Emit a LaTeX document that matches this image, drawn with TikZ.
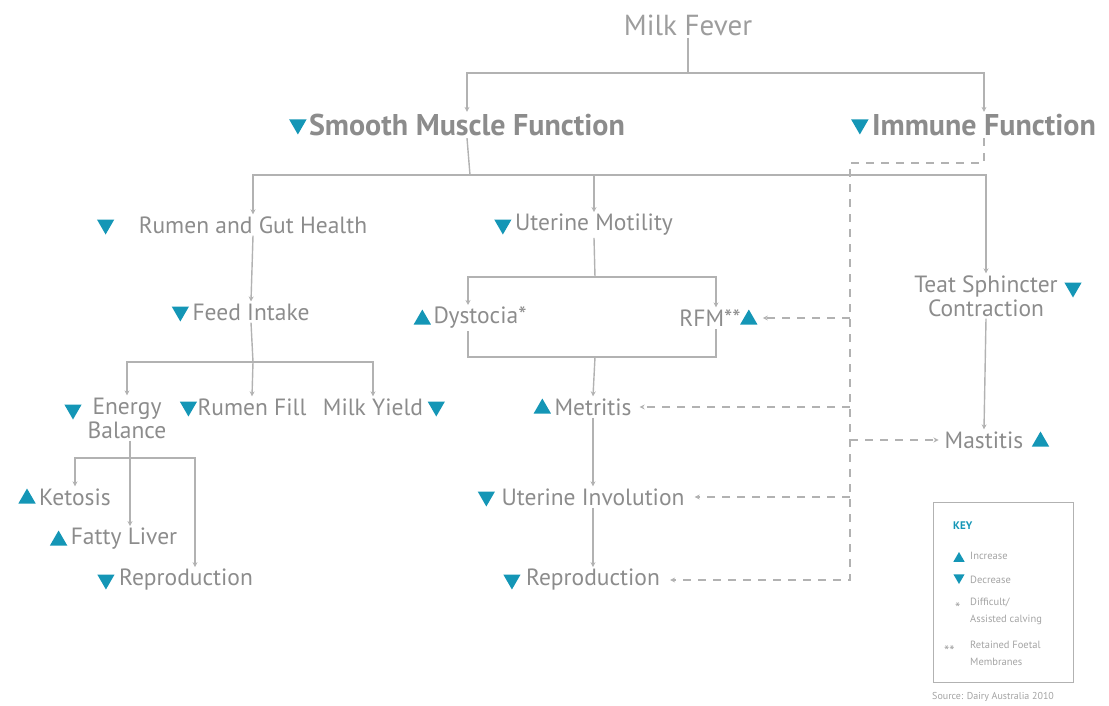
\documentclass[tikz,border=0pt]{standalone}
\usepackage{fontspec}
\setmainfont{PT Sans}
\usetikzlibrary{arrows.meta,positioning,calc,shapes.geometric}
\definecolor{txtcol}{RGB}{140,140,140}
\definecolor{lncol}{RGB}{178,178,178}
\definecolor{tcol}{RGB}{20,150,182}

\begin{document}
\begin{tikzpicture}[x=1pt, y=-1pt, >={Stealth[length=5pt,width=5pt]},
  lbl/.style={text=txtcol, font=\fontsize{23.5}{24}\selectfont, align=center, inner sep=2pt},
  head/.style={text=txtcol, font=\fontsize{30}{32}\selectfont\bfseries, inner sep=2pt},
  incr/.style={regular polygon, regular polygon sides=3, fill=tcol, inner sep=0pt, minimum size=20pt, yshift=-1.5pt},
  decr/.style={incr, shape border rotate=180, yshift=2pt},
  conn/.style={draw=lncol, line width=1.4pt},
  dashln/.style={conn, dash pattern=on 8pt off 7pt},
  keytxt/.style={text=txtcol!80, font=\fontsize{10.5}{17}\selectfont, align=left, inner sep=0pt}]
\useasboundingbox (0,0) rectangle (1109,706);

% top levels
\node[lbl, font=\fontsize{29}{31}\selectfont, text=txtcol!85] (milk) at (688,25) {Milk Fever};
\node[head] (smf) at (467,125) {Smooth Muscle Function};
\node[decr, left=3pt of smf] (smft) {};
\node[head] (imm) at (984,125) {Immune Function};
\node[decr, left=4pt of imm] (immt) {};

% rumen branch
\node[lbl] (rumen) at (253,225) {Rumen and Gut Health};
\node[decr, left=25pt of rumen] (rument) {};
\node[lbl] (feed) at (251,312) {Feed Intake};
\node[decr, left=4pt of feed] (feedt) {};
\node[lbl] (energy) at (127,418) {Energy\\Balance};
\node[decr] (energyt) at (73,410) {};
\node[lbl] (fill) at (252,407) {Rumen Fill};
\node[decr, left=1pt of fill] (fillt) {};
\node[lbl] (yield) at (373,407) {Milk Yield};
\node[decr, right=5pt of yield] (yieldt) {};
\node[lbl] (ketosis) at (75,497) {Ketosis};
\node[incr, left=4pt of ketosis] (ketosist) {};
\node[lbl] (fatty) at (124,539) {Fatty Liver};
\node[incr, left=4pt of fatty] (fattyt) {};
\node[lbl] (repro1) at (186,580) {Reproduction};
\node[decr, left=5pt of repro1] (repro1t) {};

% uterine branch
\node[lbl] (motil) at (594,225) {Uterine Motility};
\node[decr, left=4pt of motil] (motilt) {};
\node[lbl] (dyst) at (480,318) {Dystocia*};
\node[incr, left=3pt of dyst] (dystt) {};
\node[lbl] (rfm) at (710,318) {RFM**};
\node[incr, right=0pt of rfm] (rfmt) {};
\node[lbl] (metr) at (593,407) {Metritis};
\node[incr, left=4pt of metr] (metrt) {};
\node[lbl] (invol) at (593,497) {Uterine Involution};
\node[decr, left=7pt of invol] (involt) {};
\node[lbl] (repro2) at (593,580) {Reproduction};
\node[decr, left=6pt of repro2] (repro2t) {};

% teat branch
\node[lbl] (teat) at (986,296) {Teat Sphincter\\Contraction};
\node[decr] (teatt) at (1073,288) {};
\node[lbl] (mast) at (984,440) {Mastitis};
\node[incr, right=9pt of mast] (mastt) {};

% solid connectors
\coordinate (j0) at (688,73);
\coordinate (j1) at (470,175);
\coordinate (j2) at (253,362);
\coordinate (j3) at (130,458);
\coordinate (j4) at (595,277);
\coordinate (j5) at (595,357);
\draw[conn] (milk.south) -- (j0);
\draw[conn,->] (j0) -| (smf.north);
\draw[conn,->] (j0) -| (imm.north);
\draw[conn] (smf.south) -- (j1);
\draw[conn,->] (j1) -| (rumen.north);
\draw[conn,->] (j1) -| (motil.north);
\draw[conn,->] (j1) -| (teat.north);
\draw[conn,->] (rumen.south) -- (feed.north);
\draw[conn] (feed.south) -- (j2);
\draw[conn,->] (j2) -| (energy.north);
\draw[conn,->] (j2) -- (fill.north);
\draw[conn,->] (j2) -| (yield.north);
\draw[conn,->] (energy.south -| j3) -- (j3 |- fatty.north);
\draw[conn,->] (j3) -| (ketosis.north);
\draw[conn,->] (j3) -| ([xshift=9pt]repro1.north);
\draw[conn] (motil.south) -- (j4);
\draw[conn,->] (j4) -| ([xshift=-12pt]dyst.north);
\draw[conn,->] (j4) -| ([xshift=6pt]rfm.north);
\draw[conn] ([xshift=-12pt]dyst.south) -- ([xshift=-12pt]dyst.south |- j5)
  -- ([xshift=6pt]rfm.south |- j5) -- ([xshift=6pt]rfm.south);
\draw[conn,->] (j5) -- (metr.north);
\draw[conn,->] (metr.south) -- (invol.north);
\draw[conn,->] (invol.south) -- (repro2.north);
\draw[conn,->] (teat.south) -- (mast.north);

% dashed immune links
\coordinate (dtop) at (850,163);
\draw[dashln,->,shorten >=8pt] (imm.south) |- (dtop) -- (dtop |- repro2) -- (repro2.east);
\draw[dashln,->,shorten >=8pt] (dtop |- rfm) -- (rfmt.east |- rfm);
\draw[dashln,->,shorten >=6pt] (dtop |- metr) -- (metr.east);
\draw[dashln,->,shorten >=8pt] (dtop |- invol) -- (invol.east);
\draw[dashln,->,shorten >=4pt] (dtop |- mast) -- (mast.west);

% key
\node[draw=lncol, line width=1pt, minimum width=140pt, minimum height=180pt] (key) at (1003,592) {};
\node[anchor=west, text=tcol, font=\fontsize{11}{13}\selectfont\bfseries, inner sep=0pt] (keyhd) at (953,526) {KEY};
\node[incr, minimum size=13pt] (keyup) at (959,557) {};
\node[keytxt, anchor=west] (keyinc) at (970,556) {Increase};
\node[decr, minimum size=13pt] (keydn) at (959,578) {};
\node[keytxt, anchor=west] (keydec) at (970,580) {Decrease};
\node[keytxt, font=\fontsize{15}{17}\selectfont, anchor=west] (keyst1) at (955,608) {*};
\node[keytxt, anchor=north west] (keydif) at (970,598) {Difficult/\\Assisted calving};
\node[keytxt, font=\fontsize{15}{17}\selectfont, anchor=west] (keyst2) at (944,651) {**};
\node[keytxt, anchor=north west] (keyrfm) at (970,641) {Retained Foetal\\Membranes};
\node[keytxt, font=\fontsize{10}{12}\selectfont, anchor=west] (src) at (932,697) {Source: Dairy Australia 2010};
\end{tikzpicture}
\end{document}
